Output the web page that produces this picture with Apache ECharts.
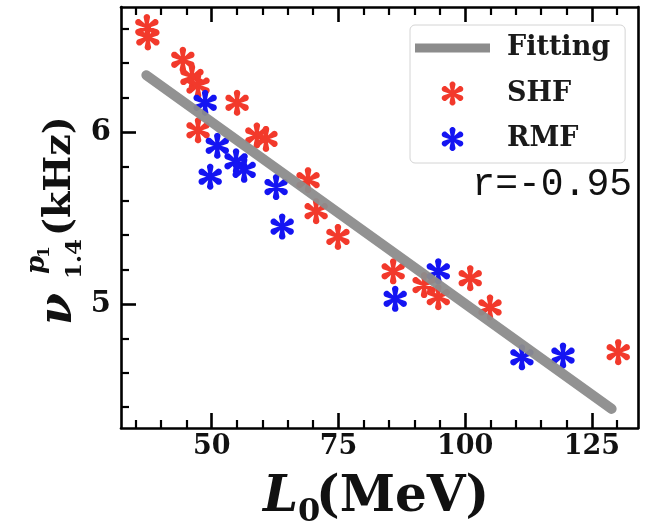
<!DOCTYPE html>
<html>
<head>
<meta charset="utf-8">
<script src="https://cdn.jsdelivr.net/npm/echarts@6/dist/echarts.min.js"></script>
<style>
  html, body { margin: 0; padding: 0; background: #ffffff; }
  #chart { width: 655px; height: 529px; }
</style>
</head>
<body>
<div id="chart"></div>
<script>
// Symmetry-energy slope L0 (MeV) against the p1-mode frequency of a 1.4 Msun star (kHz)
const shfL  = [37.2, 37.4, 44.3, 46.1, 47.3, 55.0, 47.3, 58.9, 60.7, 69.0, 70.6, 74.9, 85.8, 91.9, 94.7, 101.0, 104.9, 130.2];
const shfNu = [6.61, 6.55, 6.42, 6.32, 6.27, 6.17, 6.01, 5.98, 5.96, 5.72, 5.54, 5.39, 5.19, 5.11, 5.04, 5.15, 4.98, 4.72];

const rmfL  = [48.7, 51.1, 49.7, 54.8, 56.4, 62.7, 63.9, 86.2, 94.7, 111.2, 119.3];
const rmfNu = [6.17, 5.92, 5.74, 5.83, 5.78, 5.68, 5.45, 5.03, 5.19, 4.69, 4.70];

// End points of the linear fit
const fitL  = [37.1, 128.9];
const fitNu = [6.33, 4.39];

const xMajorTicks = [50, 75, 100, 125];
const xMinorTicks = [35, 40, 45, 55, 60, 65, 70, 80, 85, 90, 95, 105, 110, 115, 120, 130];
const yMajorTicks = [5, 6];
const yMinorTicks = [4.4, 4.6, 4.8, 5.2, 5.4, 5.6, 5.8, 6.2, 6.4, 6.6];

const seriesNames = ['Fitting', 'SHF', 'RMF'];
const corrLabel = 'r=-0.95';

const xRange = [32.1, 134.1];
const yRange = [4.279, 6.727];

const RED = '#f2392b';
const BLUE = '#1414f2';
const GREY = '#8c8c8c';
const SERIF = '"DejaVu Serif", "Liberation Serif", serif';

// Asterisk glyph with teardrop arms, built as an SVG path in a 100x100 box
function asteriskPath(arms, startDeg) {
  const c = 50, R = 50, tipR = 12.5, baseW = 5;
  let d = '';
  for (let k = 0; k < arms; k++) {
    const a = (startDeg + k * 360 / arms) * Math.PI / 180;
    const ux = Math.sin(a), uy = -Math.cos(a);   // arm direction
    const nx = Math.cos(a), ny = Math.sin(a);    // perpendicular
    const tx = c + ux * (R - tipR), ty = c + uy * (R - tipR);
    const pts = [];
    pts.push([c - nx * baseW, c - ny * baseW]);
    for (let t = -90; t <= 90; t += 15) {
      const r = t * Math.PI / 180;
      pts.push([tx + ux * Math.cos(r) * tipR + nx * Math.sin(r) * tipR,
                ty + uy * Math.cos(r) * tipR + ny * Math.sin(r) * tipR]);
    }
    pts.push([c + nx * baseW, c + ny * baseW]);
    d += 'M' + pts.map(p => p[0].toFixed(2) + ',' + p[1].toFixed(2)).join('L') + 'Z';
  }
  return 'path://' + d;
}
const STAR = asteriskPath(6, 0);

const zip = (xs, ys) => xs.map((x, i) => [x, ys[i]]);

function xAxisDef(position, ticks, len, showLine, showLabel) {
  return {
    type: 'value', gridIndex: 0, position: position,
    min: xRange[0], max: xRange[1],
    axisLine: { show: showLine, onZero: false, lineStyle: { color: '#000', width: 2.6 } },
    axisTick: { show: true, inside: true, length: len, customValues: ticks,
                lineStyle: { color: '#000', width: len > 10 ? 2.6 : 2.2 } },
    axisLabel: { show: showLabel, customValues: ticks, margin: 5,
                 fontFamily: SERIF, fontWeight: 'bold', fontSize: 27, color: '#111' },
    splitLine: { show: false }
  };
}
function yAxisDef(position, ticks, len, showLine, showLabel) {
  return {
    type: 'value', gridIndex: 0, position: position,
    min: yRange[0], max: yRange[1],
    axisLine: { show: showLine, onZero: false, lineStyle: { color: '#000', width: 2.6 } },
    axisTick: { show: ticks.length > 0, inside: true, length: len, customValues: ticks,
                lineStyle: { color: '#000', width: len > 10 ? 2.6 : 2.2 } },
    axisLabel: { show: showLabel, customValues: ticks, margin: 10,
                 fontFamily: SERIF, fontWeight: 'bold', fontSize: 29, color: '#111' },
    splitLine: { show: false }
  };
}

function label(text, x, y, size, italic) {
  return {
    type: 'text', x: x, y: y,
    style: { text: text, fontFamily: SERIF, fontWeight: 'bold', fontStyle: italic ? 'italic' : 'normal',
             fontSize: size, fill: '#111',
             align: 'left', verticalAlign: 'middle', textAlign: 'left', textVerticalAlign: 'middle' }
  };
}

const chart = echarts.init(document.getElementById('chart'), null, { renderer: 'canvas' });

chart.setOption({
  animation: false,
  backgroundColor: '#ffffff',
  grid: { left: 121, top: 7, width: 517, height: 421, containLabel: false },
  xAxis: [
    xAxisDef('bottom', xMajorTicks, 15, true, true),
    xAxisDef('bottom', xMinorTicks, 8, false, false),
    xAxisDef('top', xMajorTicks, 15, true, false),
    xAxisDef('top', xMinorTicks, 8, false, false)
  ],
  yAxis: [
    yAxisDef('left', yMajorTicks, 15, true, true),
    yAxisDef('left', yMinorTicks, 8, false, false),
    yAxisDef('right', [], 0, true, false)
  ],
  legend: {
    orient: 'vertical', left: 410, top: 25,
    itemWidth: 75, itemHeight: 24, itemGap: 18.5, itemTextGap: 18,
    padding: [9.5, 15, 10.5, 5],
    borderColor: '#d4d4d4', borderWidth: 1, borderRadius: 5,
    backgroundColor: 'rgba(255,255,255,0.85)',
    textStyle: { fontFamily: SERIF, fontWeight: 'bold', fontSize: 27, color: '#1a1a1a',
                 lineHeight: 24, padding: [0, 0, 0, 12] },
    data: [
      { name: seriesNames[0], icon: 'path://M0,0H75V9H0Z' },
      { name: seriesNames[1], icon: STAR },
      { name: seriesNames[2], icon: STAR }
    ]
  },
  series: [
    {
      name: seriesNames[0], type: 'line', xAxisIndex: 0, yAxisIndex: 0,
      data: zip(fitL, fitNu), symbol: 'none', symbolKeepAspect: true,
      color: GREY, itemStyle: { color: GREY },
      lineStyle: { color: GREY, width: 10, cap: 'round', opacity: 0.95 },
      z: 4
    },
    {
      name: seriesNames[1], type: 'scatter', xAxisIndex: 0, yAxisIndex: 0,
      data: zip(shfL, shfNu), symbol: STAR, symbolSize: 26, symbolKeepAspect: true,
      itemStyle: { color: RED, opacity: 1 }, z: 2
    },
    {
      name: seriesNames[2], type: 'scatter', xAxisIndex: 0, yAxisIndex: 0,
      data: zip(rmfL, rmfNu), symbol: STAR, symbolSize: 26, symbolKeepAspect: true,
      itemStyle: { color: BLUE, opacity: 1 }, z: 3
    }
  ],
  graphic: [
    {
      type: 'text', x: 632, y: 185, z: 10,
      style: { text: corrLabel, fontFamily: '"Liberation Mono", "DejaVu Sans Mono", monospace',
               fontSize: 38, fill: '#111', align: 'right', verticalAlign: 'middle',
               textAlign: 'right', textVerticalAlign: 'middle' }
    },
    // x axis title: L0 (MeV)
    {
      type: 'group', x: 0, y: 0, z: 10,
      children: [
        label('L', 263, 498, 50, true),
        label('0', 298, 513, 32, false),
        label('(MeV)', 316, 498, 50, false)
      ]
    },
    // y axis title: nu^{p1}_{1.4} (kHz), reading upward
    {
      type: 'group', x: 72, y: 323, rotation: Math.PI / 2, z: 10,
      children: [
        label('ν', -2, -13, 46, true),
        label('p', 49, -35, 26, true),
        label('1', 65, -27, 17, false),
        label('1.4', 44, 3, 23, false),
        label('(kHz)', 87, -12, 38, false)
      ]
    }
  ]
});
</script>
</body>
</html>
